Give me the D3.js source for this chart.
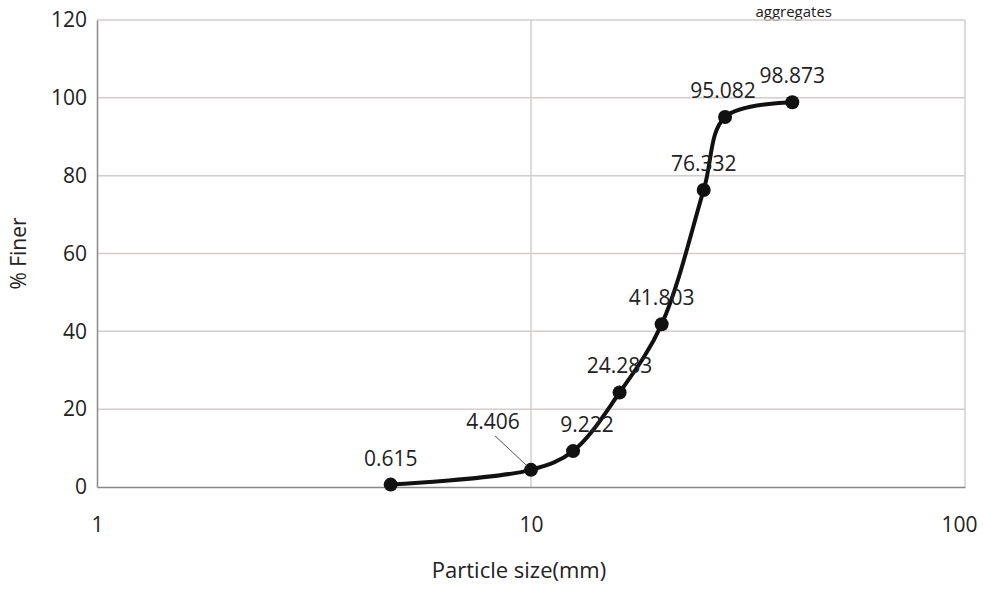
<!DOCTYPE html>
<html>
<head>
<meta charset="utf-8">
<script src="https://cdn.jsdelivr.net/npm/d3@7/dist/d3.min.js"></script>
<style>
body { margin: 0; background: #fff; }
text { font-family: "Open Sans", sans-serif; fill: #222; }
</style>
</head>
<body>
<svg id="chart" width="983" height="592"></svg>
<script>
// sieve sizes (mm) and cumulative % passing
var sizes = [4.75, 10, 12.5, 16, 20, 25, 28, 40];
var finer = [0.615, 4.406, 9.222, 24.283, 41.803, 76.332, 95.082, 98.873];
var labels = ["0.615", "4.406", "9.222", "24.283", "41.803", "76.332", "95.082", "98.873"];
var yTicks = [0, 20, 40, 60, 80, 100, 120];
var xTicks = [1, 10, 100];

var width = 983;
var height = 592;
var margin = {top: 20, right: 18, bottom: 105, left: 97};

var svg = d3.select("#chart");

var x = d3.scaleLog().domain([1, 100]).range([margin.left, width - margin.right]);
var y = d3.scaleLinear().domain([0, 120]).range([height - margin.bottom, margin.top]);

// title (only its tail shows at the top of the photo)
svg.append("text")
    .attr("x", 832)
    .attr("y", 17)
    .attr("text-anchor", "end")
    .attr("font-size", "15px")
    .text("aggregates");

// horizontal gridlines
svg.append("g").selectAll("line")
    .data(yTicks.slice(1))
    .enter().append("line")
    .attr("x1", x(1))
    .attr("x2", x(100))
    .attr("y1", function(d) { return y(d); })
    .attr("y2", function(d) { return y(d); })
    .attr("stroke", "#d6cccc")
    .attr("stroke-width", 1.5);

// vertical gridlines
svg.append("g").selectAll("line")
    .data(xTicks.slice(1))
    .enter().append("line")
    .attr("x1", function(d) { return x(d); })
    .attr("x2", function(d) { return x(d); })
    .attr("y1", y(0))
    .attr("y2", y(120))
    .attr("stroke", "#d6cccc")
    .attr("stroke-width", 1.5);

// axes
var yAxis = svg.append("g")
    .attr("transform", "translate(" + margin.left + ",0)")
    .call(d3.axisLeft(y).tickValues(yTicks).tickSize(0).tickPadding(10));
yAxis.select(".domain").attr("stroke", "#888").attr("stroke-width", 1.5);
yAxis.selectAll("text").attr("font-size", "21px").attr("font-family", "Open Sans");

var xAxis = svg.append("g")
    .attr("transform", "translate(0," + y(0) + ")")
    .call(d3.axisBottom(x).tickValues(xTicks).tickFormat(d3.format("d")).tickSize(0).tickPadding(30));
xAxis.select(".domain").attr("stroke", "#888").attr("stroke-width", 1.5);
xAxis.selectAll("text").attr("font-size", "21px").attr("font-family", "Open Sans");
xAxis.selectAll(".tick text").attr("dx", function(d) { return d === 100 ? -6 : 0; });

// axis titles
svg.append("text")
    .attr("x", x(10) - 12)
    .attr("y", 578)
    .attr("text-anchor", "middle")
    .attr("font-size", "22px")
    .text("Particle size(mm)");

svg.append("text")
    .attr("transform", "translate(26," + y(60) + ") rotate(-90)")
    .attr("text-anchor", "middle")
    .attr("font-size", "21px")
    .text("% Finer");

// curve
var points = sizes.map(function(s, i) { return {size: s, value: finer[i], label: labels[i]}; });

var line = d3.line()
    .x(function(d) { return x(d.size); })
    .y(function(d) { return y(d.value); })
    .curve(d3.curveCatmullRom.alpha(0.5));

svg.append("path")
    .datum(points)
    .attr("fill", "none")
    .attr("stroke", "#111")
    .attr("stroke-width", 4)
    .attr("d", line);

svg.append("g").selectAll("circle")
    .data(points)
    .enter().append("circle")
    .attr("cx", function(d) { return x(d.size); })
    .attr("cy", function(d) { return y(d.value); })
    .attr("r", 7)
    .attr("fill", "#111");

// data labels, above the points; 4.406 pulled away with a leader line
var labelShift = [[0, 0], [-38, -22], [14, 0], [0, 0], [0, 0], [0, 0], [-2, 0], [0, 0]];

svg.append("g").selectAll("text")
    .data(points)
    .enter().append("text")
    .attr("x", function(d, i) { return x(d.size) + labelShift[i][0]; })
    .attr("y", function(d, i) { return y(d.value) - 19 + labelShift[i][1]; })
    .attr("text-anchor", "middle")
    .attr("font-size", "21px")
    .text(function(d) { return d.label; });

svg.append("line")
    .attr("x1", x(sizes[1]) - 36)
    .attr("y1", y(finer[1]) - 34)
    .attr("x2", x(sizes[1]) - 4)
    .attr("y2", y(finer[1]) - 4)
    .attr("stroke", "#555")
    .attr("stroke-width", 1);
</script>
</body>
</html>
